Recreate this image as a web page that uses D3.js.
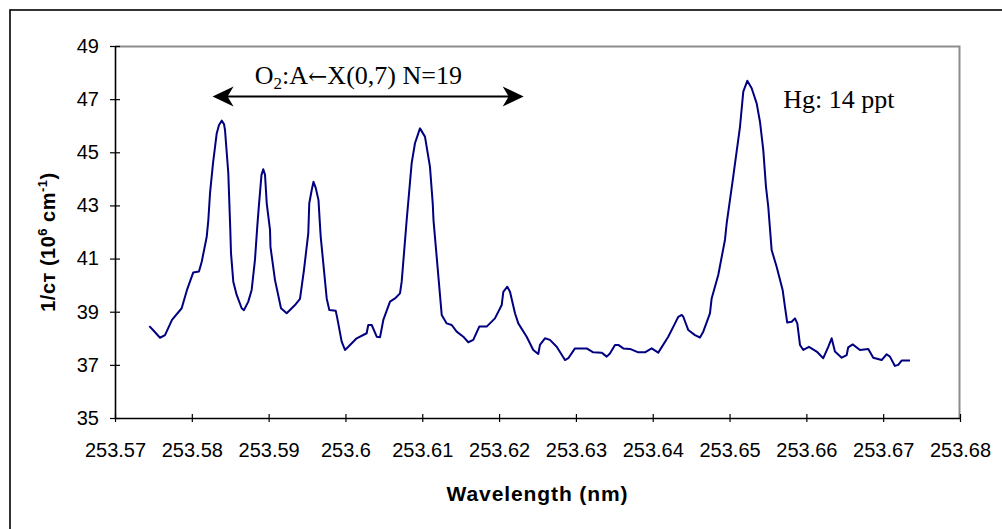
<!DOCTYPE html>
<html>
<head>
<meta charset="utf-8">
<script src="https://cdn.jsdelivr.net/npm/d3@7"></script>
<style>
  body { margin: 0; background: #fff; }
  svg { display: block; }
</style>
</head>
<body>
<svg id="chart" width="1002" height="529"></svg>
<script>
// wavelength (nm)
const wavelength = [
  253.57447, 253.57495, 253.57586, 253.57651, 253.57742, 253.57868, 253.57937, 253.58019, 253.58093, 253.58129,
  253.58194, 253.58215, 253.58237, 253.58276, 253.58324, 253.58354, 253.58389, 253.58419, 253.58432, 253.58475,
  253.58501, 253.58510, 253.58540, 253.58584, 253.58649, 253.58679, 253.58735, 253.58779, 253.58822, 253.58852,
  253.58874, 253.58887, 253.58907, 253.58930, 253.58953, 253.58975, 253.59018, 253.59024, 253.59083, 253.59161,
  253.59235, 253.59343, 253.59408, 253.59460, 253.59516, 253.59529, 253.59561, 253.59584, 253.59613, 253.59649,
  253.59672, 253.59678, 253.59756, 253.59790, 253.59873, 253.59894, 253.59951, 253.59994, 253.60037, 253.60146,
  253.60276, 253.60297, 253.60342, 253.60407, 253.60450, 253.60493, 253.60580, 253.60645, 253.60710, 253.60732,
  253.60797, 253.60862, 253.60905, 253.60970, 253.61035, 253.61100, 253.61136, 253.61146, 253.61253, 253.61318,
  253.61383, 253.61448, 253.61534, 253.61599, 253.61664, 253.61742, 253.61838, 253.61946, 253.62034, 253.62055,
  253.62107, 253.62142, 253.62207, 253.62250, 253.62359, 253.62445, 253.62510, 253.62532, 253.62597, 253.62662,
  253.62750, 253.62858, 253.62901, 253.62988, 253.63140, 253.63226, 253.63335, 253.63401, 253.63443, 253.63509,
  253.63552, 253.63617, 253.63704, 253.63812, 253.63899, 253.63986, 253.64072, 253.64202, 253.64290, 253.64333,
  253.64377, 253.64398, 253.64463, 253.64550, 253.64615, 253.64658, 253.64745, 253.64767, 253.64853, 253.64940,
  253.64963, 253.65048, 253.65136, 253.65179, 253.65231, 253.65288, 253.65353, 253.65396, 253.65439, 253.65474,
  253.65504, 253.65548, 253.65613, 253.65691, 253.65721, 253.65751, 253.65809, 253.65852, 253.65882, 253.65917,
  253.65960, 253.66034, 253.66134, 253.66220, 253.66285, 253.66329, 253.66372, 253.66460, 253.66525, 253.66545,
  253.66603, 253.66698, 253.66806, 253.66871, 253.66980, 253.67045, 253.67088, 253.67153, 253.67196, 253.67240,
  253.67349
];

// 1/c-tau (10^6 cm^-1)
const invCtau = [
  38.46, 38.31, 38.02, 38.12, 38.69, 39.13, 39.82, 40.48, 40.51, 40.88,
  41.82, 42.45, 43.46, 44.59, 45.71, 46.03, 46.19, 46.06, 45.84, 44.21,
  42.08, 41.21, 40.13, 39.63, 39.13, 39.06, 39.38, 39.82, 40.95, 42.20,
  43.02, 43.46, 44.15, 44.36, 44.15, 43.08, 42.08, 41.44, 40.19, 39.13,
  38.94, 39.25, 39.48, 40.57, 41.95, 43.08, 43.58, 43.89, 43.66, 43.20,
  42.08, 41.82, 39.50, 39.06, 39.04, 38.75, 37.87, 37.56, 37.68, 38.00,
  38.19, 38.50, 38.50, 38.06, 38.04, 38.69, 39.38, 39.50, 39.69, 40.13,
  42.45, 44.59, 45.34, 45.90, 45.59, 44.46, 43.08, 42.45, 38.88, 38.56,
  38.50, 38.25, 38.06, 37.85, 37.94, 38.44, 38.44, 38.75, 39.25, 39.75,
  39.94, 39.75, 38.94, 38.56, 38.06, 37.56, 37.41, 37.75, 38.00, 37.94,
  37.68, 37.18, 37.25, 37.62, 37.62, 37.47, 37.46, 37.31, 37.43, 37.75,
  37.75, 37.62, 37.60, 37.47, 37.47, 37.62, 37.46, 38.06, 38.56, 38.81,
  38.88, 38.81, 38.31, 38.12, 38.03, 38.25, 38.94, 39.50, 40.38, 41.70,
  42.33, 44.08, 45.96, 47.28, 47.69, 47.41, 46.84, 46.15, 45.09, 43.71,
  42.95, 41.32, 40.69, 39.82, 39.19, 38.59, 38.62, 38.75, 38.56, 37.75,
  37.56, 37.68, 37.50, 37.25, 37.68, 38.00, 37.50, 37.27, 37.37, 37.66,
  37.77, 37.56, 37.60, 37.27, 37.18, 37.40, 37.31, 36.96, 37.00, 37.16,
  37.16
];

const xTicks = [253.57, 253.58, 253.59, 253.6, 253.61, 253.62, 253.63, 253.64, 253.65, 253.66, 253.67, 253.68];
const yTicks = [35, 37, 39, 41, 43, 45, 47, 49];

// annotation anchors, in data units
const bandArrow = { from: 253.5827, to: 253.6232, y: 47.1 };
const bandLabel = { x: 253.5882, y: 47.57 };
const hgLabel = { x: 253.6570, y: 46.67 };

const plot = { left: 115, right: 960, top: 46, bottom: 418 };
const sans = "'Liberation Sans', Arial, sans-serif";
const serif = "'Liberation Serif', 'Times New Roman', serif";

const svg = d3.select("#chart");

// outer chart frame
svg.append("rect")
    .attr("x", 10)
    .attr("y", 10)
    .attr("width", 1010)
    .attr("height", 540)
    .style("fill", "none")
    .style("stroke", "#000")
    .style("stroke-width", 1.6);

const x = d3.scaleLinear()
    .domain([253.57, 253.68])
    .range([plot.left, plot.right]);

const y = d3.scaleLinear()
    .domain([35, 49])
    .range([plot.bottom, plot.top]);

// plot area border (top and right show in grey)
svg.append("path")
    .attr("d", `M${plot.left},${plot.top + 0.5}H${plot.right - 0.5}V${plot.bottom}`)
    .style("fill", "none")
    .style("stroke", "#8c8c8c")
    .style("stroke-width", 2);

// x axis
const xAxis = svg.append("g")
    .attr("transform", `translate(0,${plot.bottom})`)
    .call(d3.axisBottom(x)
        .tickValues(xTicks)
        .tickFormat(d => String(d))
        .tickSizeInner(4)
        .tickSizeOuter(0)
        .tickPadding(21));

// y axis
const yAxis = svg.append("g")
    .attr("transform", `translate(${plot.left},0)`)
    .call(d3.axisLeft(y)
        .tickValues(yTicks)
        .tickSizeInner(4)
        .tickSizeOuter(0)
        .tickPadding(12));

// ticks cross the axis line, Excel style
xAxis.selectAll(".tick line").attr("y1", -4).attr("y2", 4);
yAxis.selectAll(".tick line").attr("x1", -5).attr("x2", 5);

for (const g of [xAxis, yAxis]) {
    g.select(".domain").style("stroke", "#000").style("stroke-width", 1.6);
    g.selectAll(".tick line").style("stroke", "#000").style("stroke-width", 1.2);
    g.selectAll(".tick text")
        .style("font-family", sans)
        .style("font-size", "20px")
        .style("fill", "#000");
}

// the spectrum
const points = wavelength.map((w, i) => ({ w: w, v: invCtau[i] }));

const line = d3.line()
    .x(d => x(d.w))
    .y(d => y(d.v));

svg.append("path")
    .datum(points)
    .attr("d", line)
    .style("fill", "none")
    .style("stroke", "#000080")
    .style("stroke-width", 2)
    .style("stroke-linejoin", "round");

// axis titles
svg.append("text")
    .attr("x", (plot.left + plot.right) / 2)
    .attr("y", 501)
    .attr("text-anchor", "middle")
    .style("font-family", sans)
    .style("font-size", "21px")
    .style("font-weight", "bold")
    .style("letter-spacing", "0.9px")
    .text("Wavelength (nm)");

const yTitle = svg.append("text")
    .attr("transform", "translate(55,242) rotate(-90)")
    .attr("text-anchor", "middle")
    .style("font-family", sans)
    .style("font-size", "20px")
    .style("font-weight", "bold")
    .style("letter-spacing", "0.5px");

yTitle.append("tspan").text("1/cт (10");
yTitle.append("tspan").attr("dy", -8).style("font-size", "13px").text("6");
yTitle.append("tspan").attr("dy", 8).text(" cm");
yTitle.append("tspan").attr("dy", -8).style("font-size", "13px").text("-1");
yTitle.append("tspan").attr("dy", 8).text(")");

// band annotation: double headed arrow
const ay = y(bandArrow.y);
const ax0 = x(bandArrow.from);
const ax1 = x(bandArrow.to);

svg.append("line")
    .attr("x1", ax0 + 10)
    .attr("x2", ax1 - 10)
    .attr("y1", ay)
    .attr("y2", ay)
    .style("stroke", "#000")
    .style("stroke-width", 2.2);

const head = d3.path();
head.moveTo(ax0, ay);
head.lineTo(ax0 + 21, ay - 10);
head.lineTo(ax0 + 15, ay);
head.lineTo(ax0 + 21, ay + 10);
head.closePath();
head.moveTo(ax1, ay);
head.lineTo(ax1 - 21, ay - 10);
head.lineTo(ax1 - 15, ay);
head.lineTo(ax1 - 21, ay + 10);
head.closePath();

svg.append("path")
    .attr("d", head)
    .style("fill", "#000");

const band = svg.append("text")
    .attr("x", x(bandLabel.x))
    .attr("y", y(bandLabel.y))
    .style("font-family", serif)
    .style("font-size", "26px")
    .style("fill", "#000");

band.append("tspan").text("O");
band.append("tspan").attr("dy", 5).style("font-size", "17px").text("2");
band.append("tspan").attr("dy", -5).text(":A");
band.append("tspan")
    .style("font-family", "'DejaVu Serif', serif")
    .style("font-size", "23px")
    .text("\u2190");
band.append("tspan").text("X(0,7) N=19");

svg.append("text")
    .attr("x", x(hgLabel.x))
    .attr("y", y(hgLabel.y))
    .style("font-family", serif)
    .style("font-size", "26px")
    .style("fill", "#000")
    .text("Hg: 14 ppt");
</script>
</body>
</html>
